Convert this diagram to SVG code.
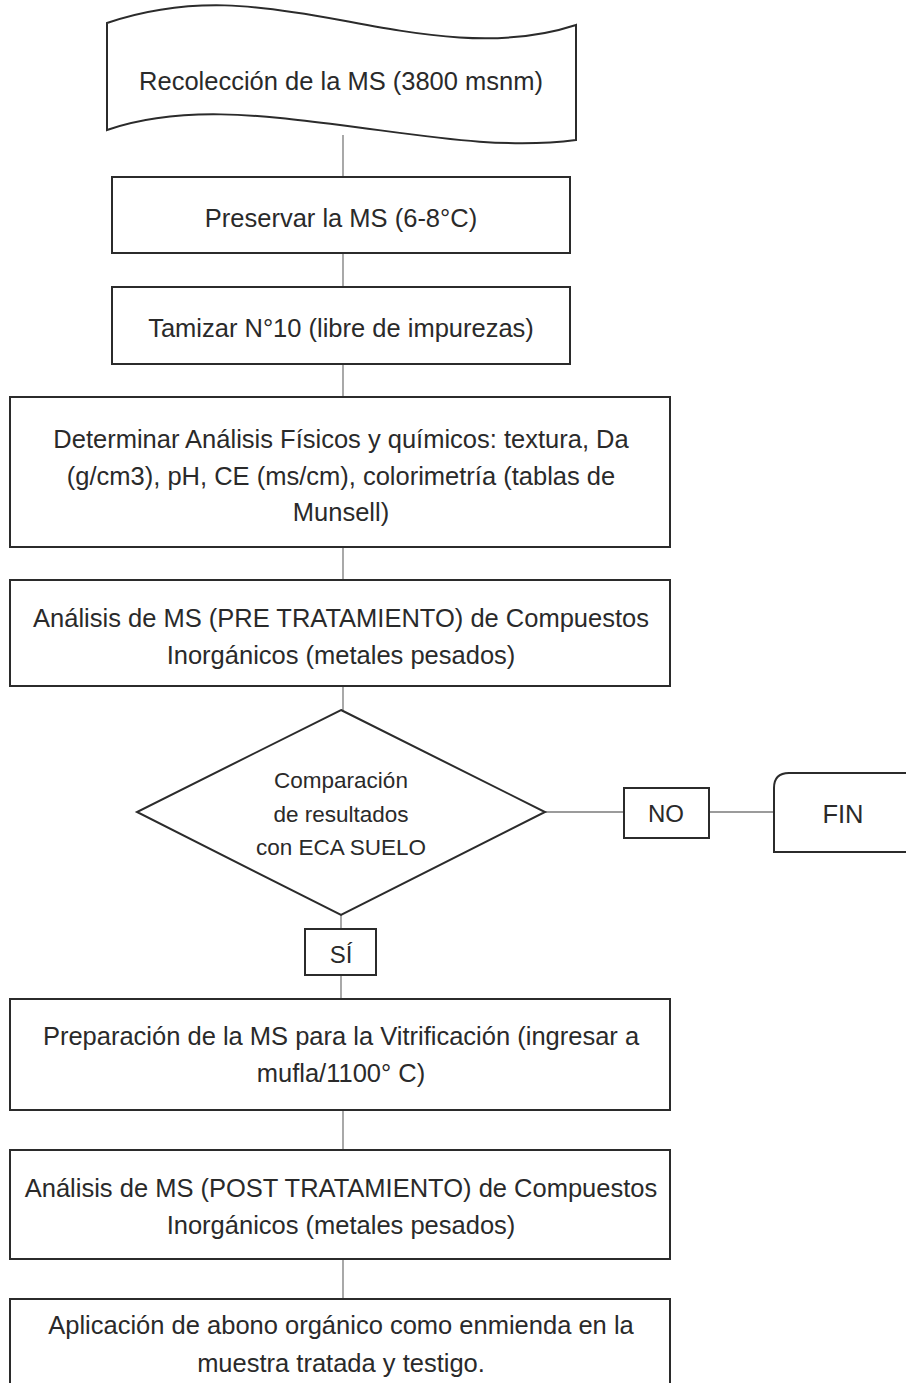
<svg xmlns="http://www.w3.org/2000/svg" width="906" height="1383" viewBox="0 0 906 1383">
<style>
.box{fill:#fff;stroke:#2b2b2b;stroke-width:2}
.conn{stroke:#7a7a7a;stroke-width:1.3;fill:none}
text{font-family:"Liberation Sans",Arial,sans-serif;font-size:25.5px;fill:#2a2a2a;text-anchor:middle}
.sm{font-size:22.5px}
.lbl{font-size:24px}
</style>
<rect width="906" height="1383" fill="#fff"/>
<g id="connectors">
<line class="conn" x1="343" y1="135" x2="343" y2="177"/>
<line class="conn" x1="343" y1="253" x2="343" y2="287"/>
<line class="conn" x1="343" y1="364" x2="343" y2="397"/>
<line class="conn" x1="343" y1="547" x2="343" y2="580"/>
<line class="conn" x1="343" y1="686" x2="343" y2="710"/>
<line class="conn" x1="341" y1="915" x2="341" y2="929"/>
<line class="conn" x1="341" y1="975" x2="341" y2="999"/>
<line class="conn" x1="343" y1="1110" x2="343" y2="1150"/>
<line class="conn" x1="343" y1="1259" x2="343" y2="1299"/>
<line class="conn" x1="545" y1="812" x2="624" y2="812"/>
<line class="conn" x1="709" y1="812" x2="773" y2="812"/>
</g>
<g id="n1">
<path class="box" d="M107,23 C190,-5 260,5 340,20 C420,35 500,50 576,25 L576,140 C500,150 420,135 340,125 C260,115 180,105 107,130 Z"/>
<text x="341" y="90">Recolección de la MS (3800 msnm)</text>
</g>
<g id="n2">
<rect class="box" x="112" y="177" width="458" height="76"/>
<text x="341" y="227">Preservar la MS (6-8°C)</text>
</g>
<g id="n3">
<rect class="box" x="112" y="287" width="458" height="77"/>
<text x="341" y="337">Tamizar N°10 (libre de impurezas)</text>
</g>
<g id="n4">
<rect class="box" x="10" y="397" width="660" height="150"/>
<text x="341" y="448">Determinar Análisis Físicos y químicos: textura, Da</text>
<text x="341" y="485">(g/cm3), pH, CE (ms/cm), colorimetría (tablas de</text>
<text x="341" y="521">Munsell)</text>
</g>
<g id="n5">
<rect class="box" x="10" y="580" width="660" height="106"/>
<text x="341" y="627">Análisis de MS (PRE TRATAMIENTO) de Compuestos</text>
<text x="341" y="664">Inorgánicos (metales pesados)</text>
</g>
<g id="n6">
<polygon class="box" points="341,710 545,812 341,915 137,812"/>
<text class="sm" x="341" y="788">Comparación</text>
<text class="sm" x="341" y="822">de resultados</text>
<text class="sm" x="341" y="855">con ECA SUELO</text>
</g>
<g id="n7">
<rect class="box" x="624" y="788" width="85" height="50"/>
<text class="lbl" x="666" y="822">NO</text>
</g>
<g id="n8">
<path class="box" d="M912,773 L789,773 Q774,773 774,788 L774,852 L912,852"/>
<text x="843" y="823">FIN</text>
</g>
<g id="n9">
<rect class="box" x="305" y="929" width="71" height="46"/>
<text class="lbl" x="341" y="963">SÍ</text>
</g>
<g id="n10">
<rect class="box" x="10" y="999" width="660" height="111"/>
<text x="341" y="1045">Preparación de la MS para la Vitrificación (ingresar a</text>
<text x="341" y="1082">mufla/1100° C)</text>
</g>
<g id="n11">
<rect class="box" x="10" y="1150" width="660" height="109"/>
<text x="341" y="1197">Análisis de MS (POST TRATAMIENTO) de Compuestos</text>
<text x="341" y="1234">Inorgánicos (metales pesados)</text>
</g>
<g id="n12">
<rect class="box" x="10" y="1299" width="660" height="110"/>
<text x="341" y="1334">Aplicación de abono orgánico como enmienda en la</text>
<text x="341" y="1372">muestra tratada y testigo.</text>
</g>
</svg>
